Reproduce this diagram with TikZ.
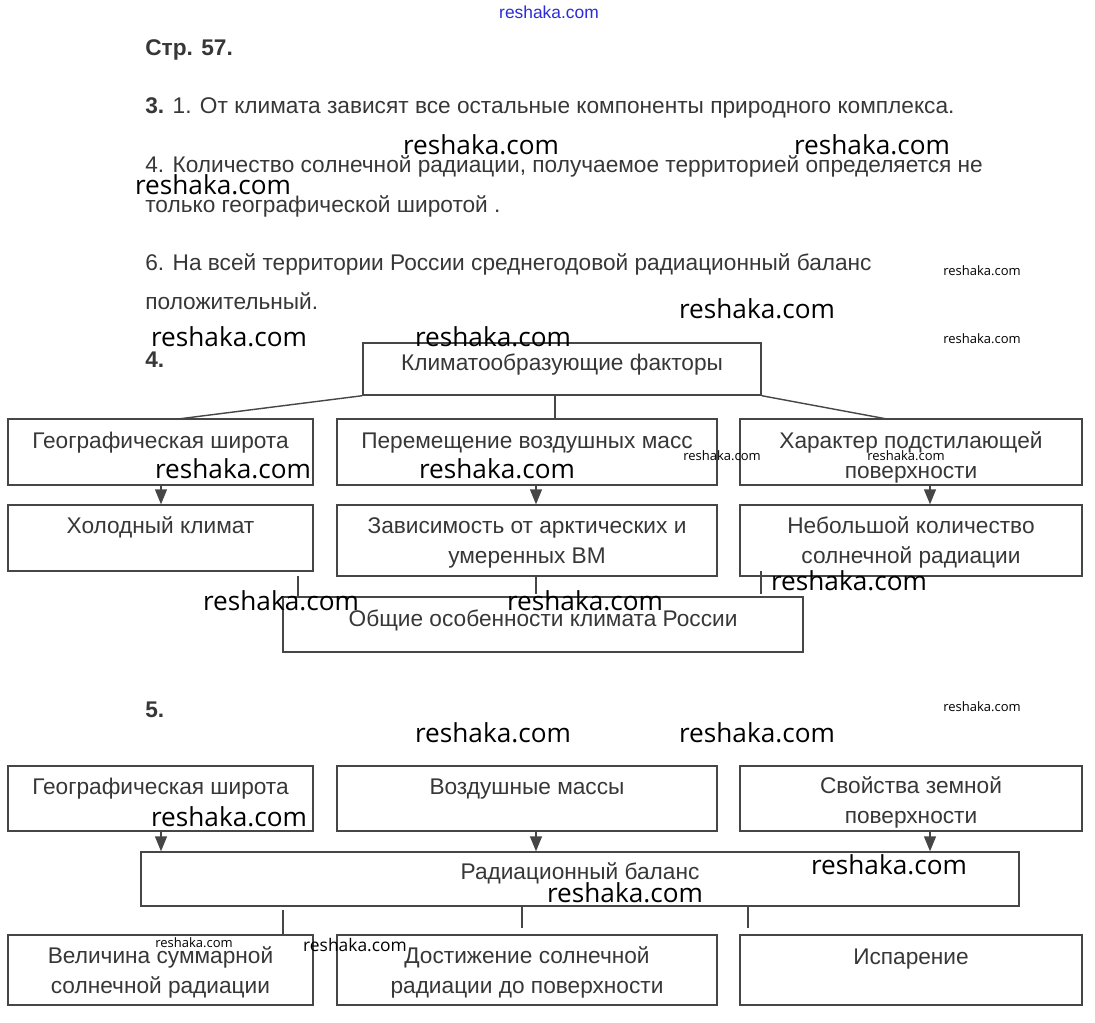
\documentclass[tikz,border=0pt]{standalone}
\usepackage{fontspec}
\setmainfont{Liberation Sans}
\newfontfamily\wmfont{Open Sans}
\usetikzlibrary{arrows.meta, fit, calc, positioning}
\definecolor{inkgray}{RGB}{55, 55, 55}
\definecolor{linegray}{RGB}{70, 70, 70}
\definecolor{siteblue}{RGB}{45, 45, 215}

\begin{document}
\begin{tikzpicture}[x=0.02cm, y=-0.02cm,
    box/.style={draw=linegray, line width=0.8pt, inner sep=0pt},
    txt/.style={text=inkgray, font=\fontsize{12.9}{17}\selectfont, align=center, inner sep=0pt, anchor=base},
    para/.style={text=inkgray, font=\fontsize{12.9}{17}\selectfont, inner sep=0pt, anchor=base west},
    wm/.style={font=\wmfont\fontsize{14.9}{15}\selectfont, inner sep=0pt},
    wmsmall/.style={font=\wmfont\fontsize{7.4}{8}\selectfont, inner sep=0pt},
    link/.style={linegray, line width=0.8pt},
    pointer/.style={link, -{Triangle[length=0.3cm, width=0.24cm]}}]
  \fill[white] (0,0) rectangle (1095,1022);
  \useasboundingbox (0,0) rectangle (1095,1022);

  % Page header and answers
  \node[font=\fontsize{9.9}{11}\selectfont, text=siteblue, inner sep=0pt] (site) at (549,12) {reshaka.com};
  \node[para] (page) at (145,55) {\textbf{Стр. 57.}};
  \node[para] (ans3) at (145,113) {\textbf{3.} 1. От климата зависят все остальные компоненты природного комплекса.};
  \node[para] (ans4a) at (145,172) {4. Количество солнечной радиации, получаемое территорией определяется не};
  \node[para] (ans4b) at (145,212) {только географической широтой .};
  \node[para] (ans6a) at (145,270) {6. На всей территории России среднегодовой радиационный баланс};
  \node[para] (ans6b) at (145,309) {положительный.};

  % Task 4: climate factors
  \node[para] (num4) at (145,367) {\textbf{4.}};
  \node[box, fit={(363,343) (761,395)}] (factors) {};
  \node[txt] (factorsT) at (562,370) {Климатообразующие факторы};

  \node[box, fit={(8,419) (313,485)}] (latA) {};
  \node[box, fit={(337,419) (717,485)}] (moveB) {};
  \node[box, fit={(740,419) (1082,485)}] (surfC) {};
  \node[txt] (latAT) at (160.5,448) {Географическая широта};
  \node[txt] (moveBT) at (527,448) {Перемещение воздушных масс};
  \node[txt] (surfCT) at (911,478) {Характер подстилающей\\поверхности};

  \node[box, fit={(8,505) (313,571)}] (coldD) {};
  \node[box, fit={(337,505) (717,576)}] (arcticE) {};
  \node[box, fit={(740,505) (1082,576)}] (sunF) {};
  \node[txt] (coldDT) at (160.5,533) {Холодный климат};
  \node[txt] (arcticET) at (527,563) {Зависимость от арктических и\\умеренных ВМ};
  \node[txt] (sunFT) at (911,563) {Небольшой количество\\солнечной радиации};

  \node[box, fit={(283,597) (803,652)}] (common) {};
  \node[txt] (commonT) at (543,626) {Общие особенности климата России};

  % links of task 4
  \coordinate (fa) at (178,419);
  \coordinate (fb) at (555,395);
  \coordinate (fc) at (887,419);
  \draw[link] (factors.south west) -- (fa);
  \draw[link] (fb) -- (fb |- moveB.north);
  \draw[link] (factors.south east) -- (fc);
  \draw[pointer] ($(latA.south)+(0.5,0)$) -- ($(coldD.north)+(0.5,0)$);
  \draw[pointer] ($(moveB.south)+(9,0)$) -- ($(arcticE.north)+(9,0)$);
  \draw[pointer] ($(surfC.south)+(19,0)$) -- ($(sunF.north)+(19,0)$);
  \coordinate (ga) at (298,576);
  \coordinate (gb) at (536,576);
  \coordinate (gc) at (761,571);
  \draw[link] (ga) -- (ga |- common.north);
  \draw[link] (gb) -- ++(0,18);
  \draw[link] (gc) -- ++(0,23);

  % Task 5: radiation balance
  \node[para] (num5) at (145,717) {\textbf{5.}};
  \node[box, fit={(8,766) (313,831)}] (latG) {};
  \node[box, fit={(337,766) (717,831)}] (airH) {};
  \node[box, fit={(740,766) (1082,831)}] (earthI) {};
  \node[txt] (latGT) at (160.5,794) {Географическая широта};
  \node[txt] (airHT) at (527,794) {Воздушные массы};
  \node[txt] (earthIT) at (911,823) {Свойства земной\\поверхности};

  \node[box, fit={(141,852) (1019,906)}] (balance) {};
  \node[txt] (balanceT) at (580,879) {Радиационный баланс};

  \node[box, fit={(8,935) (313,1005)}] (sumJ) {};
  \node[box, fit={(337,935) (717,1005)}] (reachK) {};
  \node[box, fit={(740,935) (1082,1005)}] (evapL) {};
  \node[txt] (sumJT) at (160.5,993) {Величина суммарной\\солнечной радиации};
  \node[txt] (reachKT) at (527,993) {Достижение солнечной\\радиации до поверхности};
  \node[txt] (evapLT) at (911,964) {Испарение};

  % links of task 5
  \draw[pointer] ($(latG.south)+(0.5,0)$) -- ($(latG.south |- balance.north)+(0.5,0)$);
  \draw[pointer] ($(airH.south)+(9,0)$) -- ($(airH.south |- balance.north)+(9,0)$);
  \draw[pointer] ($(earthI.south)+(19,0)$) -- ($(earthI.south |- balance.north)+(19,0)$);
  \coordinate (ha) at (283,910);
  \coordinate (hb) at (522,907);
  \coordinate (hc) at (748,907);
  \draw[link] (ha) -- (ha |- sumJ.north);
  \draw[link] (hb) -- ++(0,21);
  \draw[link] (hc) -- ++(0,21);

  % watermarks
  \foreach \wx/\wy [count=\i] in {481/145, 872/145, 213/185, 757/309, 229/337, 493/337,
      233/469, 497/469, 281/601, 585/601, 849/581, 493/733, 757/733, 229/817, 889/865, 625/893}
    \node[wm] (wm\i) at (\wx,\wy) {reshaka.com};
  \foreach \wx/\wy [count=\i] in {982/271, 982/339, 982/707, 722/456, 906/456, 194/943}
    \node[wmsmall] (wms\i) at (\wx,\wy) {reshaka.com};
  \node[wm, font=\wmfont\fontsize{9.9}{10}\selectfont] (wmmid) at (355,945) {reshaka.com};
\end{tikzpicture}
\end{document}
